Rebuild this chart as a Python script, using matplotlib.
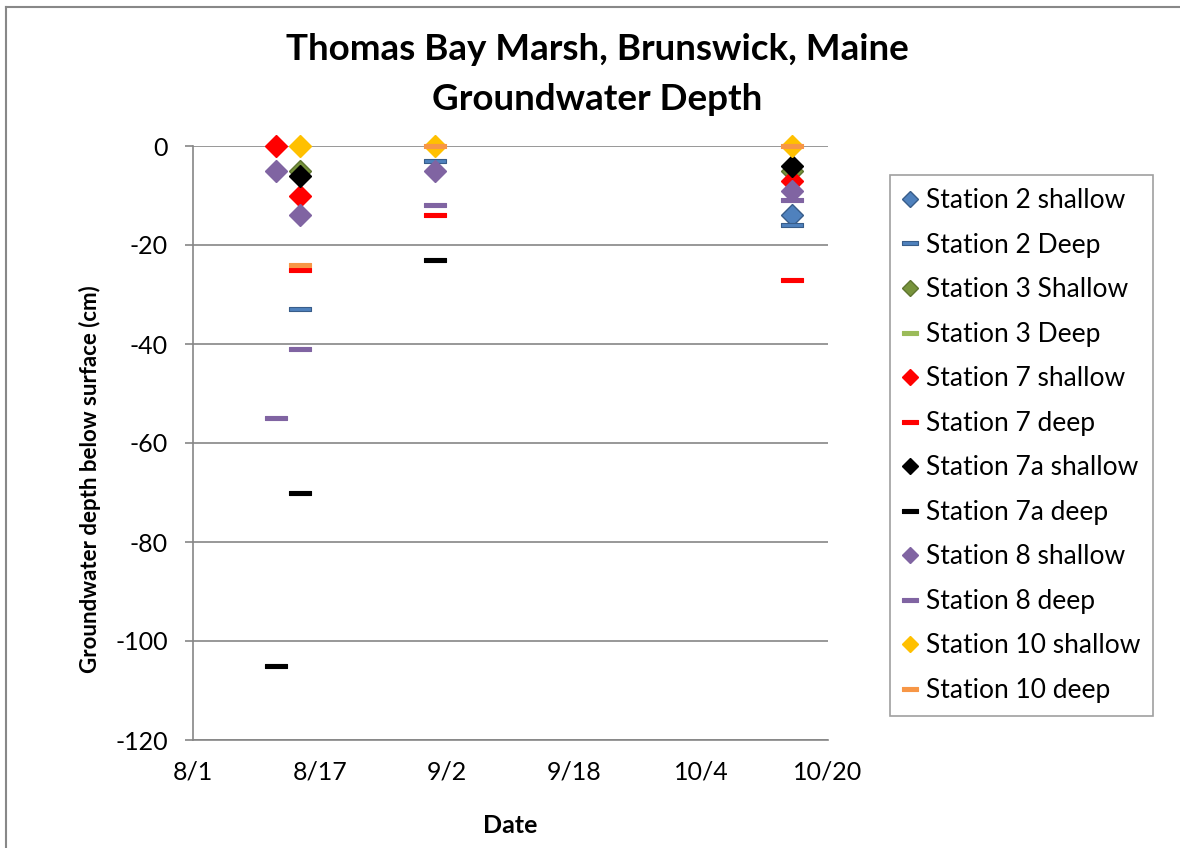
import numpy as np
import pandas as pd
import matplotlib
matplotlib.use('Agg')
import matplotlib.pyplot as plt
import matplotlib.dates as mdates
from matplotlib.lines import Line2D

plt.rcParams['font.family'] = ['Lato', 'DejaVu Sans']
plt.rcParams['axes.unicode_minus'] = False

# sampling dates
d1, d2, d3, d4 = '2009-08-11', '2009-08-14', '2009-08-31', '2009-10-15'

labels = ['Station 2 shallow', 'Station 2 Deep', 'Station 3 Shallow', 'Station 3 Deep',
          'Station 7 shallow', 'Station 7 deep', 'Station 7a shallow', 'Station 7a deep',
          'Station 8 shallow', 'Station 8 deep', 'Station 10 shallow', 'Station 10 deep']

st2_shallow_dates = [d4]
st2_shallow = [-14]
st2_deep_dates = [d2, d3, d4]
st2_deep = [-33, -3, -16]
st3_shallow_dates = [d2, d4]
st3_shallow = [-5, -5]
st3_deep_dates = []
st3_deep = []
st7_shallow_dates = [d1, d2, d4]
st7_shallow = [0, -10, -7]
st7_deep_dates = [d2, d3, d4]
st7_deep = [-25, -14, -27]
st7a_shallow_dates = [d2, d4]
st7a_shallow = [-6, -4]
st7a_deep_dates = [d1, d2, d3]
st7a_deep = [-105, -70, -23]
st8_shallow_dates = [d1, d2, d3, d4]
st8_shallow = [-5, -14, -5, -9]
st8_deep_dates = [d1, d2, d3, d4]
st8_deep = [-55, -41, -12, -11]
st10_shallow_dates = [d2, d3, d4]
st10_shallow = [0, 0, 0]
st10_deep_dates = [d2, d3, d4]
st10_deep = [-24, 0, 0]

series = [
    (st2_shallow_dates, st2_shallow, 'diamond', '#4F81BD', '#385D8A'),
    (st2_deep_dates, st2_deep, 'dash', '#4F81BD', '#385D8A'),
    (st3_shallow_dates, st3_shallow, 'diamond', '#77933C', '#5F7530'),
    (st3_deep_dates, st3_deep, 'dash', '#9BBB59', '#9BBB59'),
    (st7_shallow_dates, st7_shallow, 'diamond', '#FF0000', '#FF0000'),
    (st7_deep_dates, st7_deep, 'dash', '#FF0000', '#FF0000'),
    (st7a_shallow_dates, st7a_shallow, 'diamond', '#000000', '#000000'),
    (st7a_deep_dates, st7a_deep, 'dash', '#000000', '#000000'),
    (st8_shallow_dates, st8_shallow, 'diamond', '#8064A2', '#8064A2'),
    (st8_deep_dates, st8_deep, 'dash', '#8064A2', '#8064A2'),
    (st10_shallow_dates, st10_shallow, 'diamond', '#FFC000', '#FFC000'),
    (st10_deep_dates, st10_deep, 'dash', '#F79646', '#F79646'),
]

# flat rectangle marker like the Excel dash
dash = [(-1, -0.22), (1, -0.22), (1, 0.22), (-1, 0.22), (-1, -0.22)]

fig = plt.figure(figsize=(11.8, 8.48), dpi=100)
# chart area border (only top and left fall inside the picture)
fig.lines.append(Line2D([6 / 1180, 1], [1 - 7 / 848] * 2, transform=fig.transFigure, color='#888888', lw=1.5))
fig.lines.append(Line2D([6 / 1180] * 2, [0, 1 - 7 / 848], transform=fig.transFigure, color='#888888', lw=1.5))

ax = fig.add_axes([193 / 1180, 1 - 740 / 848, 635 / 1180, 594 / 848])

# Excel puts date points in the middle of the day slot
half_day = pd.Timedelta(hours=12)
for (dates, vals, kind, col, edge), lab in zip(series, labels):
    x = pd.to_datetime(dates) + half_day
    if kind == 'diamond':
        ax.plot(x, vals, linestyle='none', marker='D', markersize=11, color=col,
                markeredgecolor=edge, markeredgewidth=1, label=lab, clip_on=False)
    else:
        ax.plot(x, vals, linestyle='none', marker=dash, markersize=16, color=col,
                markeredgecolor=edge, markeredgewidth=0.8, label=lab, clip_on=False)

ticks = pd.date_range('2009-08-01', '2009-10-20', freq='16D')
ax.set_xlim(ticks[0], ticks[-1])
ax.set_xticks(ticks)
ax.xaxis.set_major_formatter(plt.FuncFormatter(
    lambda v, p: '%d/%d' % (mdates.num2date(v).month, mdates.num2date(v).day)))
ax.set_ylim(-120, 0)
ax.set_yticks(np.arange(-120, 1, 20))
ax.yaxis.grid(True, color='#868686', linewidth=1.2)
ax.set_axisbelow(True)
for s in ['top', 'right']:
    ax.spines[s].set_visible(False)
for s in ['left', 'bottom']:
    ax.spines[s].set_color('#868686')
    ax.spines[s].set_linewidth(1.2)
ax.tick_params(axis='y', length=6, width=1.2, color='#868686', pad=12, labelsize=18)
ax.tick_params(axis='x', length=0, pad=15, labelsize=18)

ax.set_xlabel('Date', fontsize=18, fontweight='bold', labelpad=22)
ax.set_ylabel('Groundwater depth below surface (cm)', fontsize=16, fontweight='bold')
ax.yaxis.set_label_coords(-0.145, 0.44)
fig.text(597 / 1180, 1 - 49 / 848, 'Thomas Bay Marsh, Brunswick, Maine', ha='center', va='center',
         fontsize=26.5, fontweight='bold')
fig.text(597 / 1180, 1 - 99 / 848, 'Groundwater Depth', ha='center', va='center',
         fontsize=26.5, fontweight='bold')

leg = fig.legend(loc='upper left', bbox_to_anchor=(890 / 1180, 1 - 175 / 848), fontsize=19,
                 frameon=True, fancybox=False, edgecolor='#888888', borderaxespad=0,
                 handlelength=0.55, handletextpad=0.3, labelspacing=0.74, borderpad=0.5,
                 markerscale=0.75)
leg.get_frame().set_linewidth(1.2)

fig.savefig('out.png', dpi=100)
